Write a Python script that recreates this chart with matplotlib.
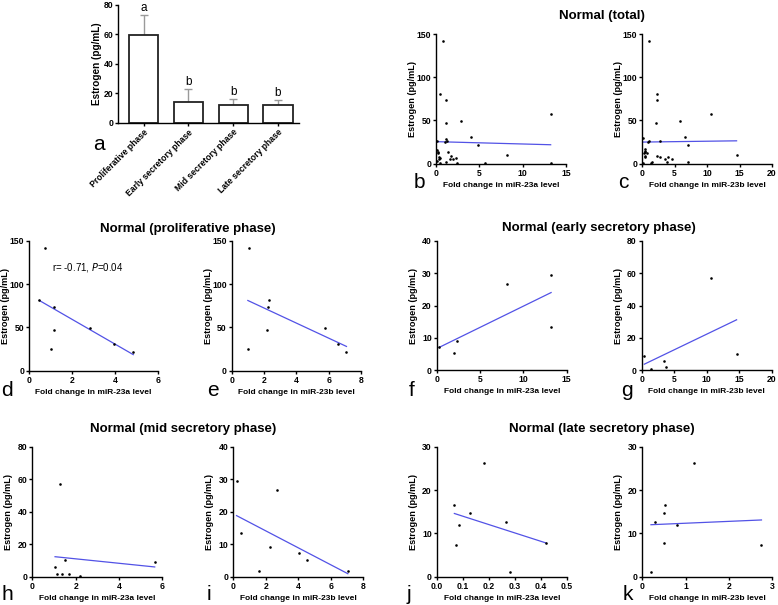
import matplotlib
matplotlib.use("Agg")
import matplotlib.pyplot as plt
import numpy as np

plt.rcParams["font.family"] = ["Liberation Sans", "DejaVu Sans"]

W, H = 778, 605

# panel a: estrogen by phase
phase_labels = ["Proliferative phase", "Early secretory phase", "Mid secretory phase", "Late secretory phase"]
phase_mean = [59.4, 14.3, 12.0, 12.3]
phase_err = [13.8, 8.6, 3.9, 2.9]
phase_letters = ["a", "b", "b", "b"]

# b / c: normal (total)
total_a_x = [0.81, 0.5, 1.19, 1.19, 2.92, 4.0, 4.88, 13.23, 8.15, 5.65, 13.23, 1.19, 1.3, 1.0, 1.38,
             1.6, 1.73, 2.0, 2.27, 2.38, 1.19, 0.08, 0.2, 0.25, 0.4, 0.35, 0.5, 0.1, 0.5, 0.15]
total_a_y = [142, 81, 74, 47, 49, 31, 22, 57, 9.6, 1.2, 1.2, 28, 26, 25, 13,
             5.4, 9.3, 5.8, 6.9, 0.4, 1.5, 26, 14, 12, 8, 6, 7, 3.5, 1.2, 16]
total_b_x = [1.13, 2.31, 2.26, 2.2, 5.8, 6.6, 7.05, 10.55, 14.55, 7.05, 0.2, 0.95, 1.1, 2.77, 0.3,
             0.5, 0.5, 0.52, 0.8, 0.45, 1.5, 1.4, 2.25, 3.5, 3.8, 4.05, 4.55, 0.2, 2.77, 0.4]
total_b_y = [142, 81, 74, 47, 49, 31, 22, 57, 9.5, 1.4, 29.4, 25.5, 26, 26.5, 12.6,
             14.6, 7.8, 16.5, 12, 13.3, 1.8, 0.6, 9.1, 5.8, 1.8, 7.3, 5.2, 1.2, 7.3, 8.8]

# d / e: proliferative phase
prol_a_x = [0.48, 0.75, 1.0, 1.15, 1.17, 2.85, 3.95, 4.85]
prol_a_y = [81, 142, 25.5, 74, 47, 49, 31, 22]
prol_b_x = [1.0, 1.1, 2.2, 2.25, 2.3, 5.8, 6.6, 7.1]
prol_b_y = [25.5, 142, 47, 74, 81, 49, 31, 22]

# f / g: early secretory phase
early_a_x = [0.3, 2.0, 2.3, 8.1, 13.2, 13.2]
early_a_y = [7.3, 5.2, 9.1, 26.7, 29.4, 13.3]
early_b_x = [0.4, 1.4, 3.5, 3.8, 10.6, 14.6]
early_b_y = [8.8, 0.6, 5.8, 1.8, 57.2, 10.2]

# h / i: mid secretory phase
mid_a_x = [1.05, 1.15, 1.3, 1.35, 1.5, 1.7, 2.2, 5.65]
mid_a_y = [5.8, 1.8, 57.2, 1.8, 10.2, 1.8, 0.6, 8.8]
mid_b_x = [0.2, 0.45, 1.6, 2.25, 2.7, 4.05, 4.55, 7.05]
mid_b_y = [29.4, 13.3, 1.8, 9.1, 26.7, 7.3, 5.2, 1.8]

# j / k: late secretory phase
late_a_x = [0.068, 0.073, 0.087, 0.127, 0.183, 0.268, 0.283, 0.42]
late_a_y = [16.5, 7.3, 12.0, 14.6, 26.2, 12.6, 1.2, 7.8]
late_b_x = [0.2, 0.3, 0.5, 0.5, 0.52, 0.8, 1.2, 2.75]
late_b_y = [1.2, 12.6, 14.6, 7.8, 16.5, 12.0, 26.2, 7.3]

# regression lines (slope, intercept)
fits = {
    "b": (-0.27, 25.5), "c": (0.10, 25.0),
    "d": (-14.3, 87.9), "e": (-8.69, 89.7),
    "f": (1.31, 6.7), "g": (1.93, 3.0),
    "h": (-1.37, 13.74), "i": (-2.61, 19.32),
    "j": (-19.3, 15.9), "k": (0.43, 11.91),
}

LINE_COLOR = "#5252e6"


def px_axes(fig, left, right, top, bottom):
    ax = fig.add_axes([left / W, 1 - bottom / H, (right - left) / W, (bottom - top) / H])
    ax._px = (right - left, bottom - top)
    return ax


def style_axes(ax):
    for s in ("top", "right"):
        ax.spines[s].set_visible(False)
    for s in ("left", "bottom"):
        ax.spines[s].set_linewidth(1.0)
    ax.tick_params(direction="out", length=2.5, width=1.0, pad=1.0, labelsize=6.2)
    for lab in ax.get_xticklabels() + ax.get_yticklabels():
        lab.set_fontweight("bold")


def place_labels(ax, ylab_px=19, xlab_px=18):
    w, h = ax._px
    ax.yaxis.set_label_coords(-ylab_px / w, 0.5)
    ax.xaxis.set_label_coords(0.5, -xlab_px / h)


def scatter_panel(fig, box, x, y, key, xmax, xticks, ymax, yticks, xlabel, xfmt=None):
    ax = px_axes(fig, *box)
    ax.scatter(x, y, s=3.5, color="black", zorder=3, clip_on=False, linewidths=0)
    slope, icpt = fits[key]
    xs = np.array([min(x), max(x)])
    ax.plot(xs, slope * xs + icpt, color=LINE_COLOR, lw=0.9)
    ax.set_xlim(0, xmax)
    ax.set_ylim(0, ymax)
    ax.set_xticks(xticks)
    ax.set_yticks(yticks)
    if xfmt:
        ax.set_xticklabels([xfmt.format(v) for v in xticks])
    ax.set_xlabel(xlabel, fontsize=6, fontweight="bold")
    ax.set_ylabel("Estrogen (pg/mL)", fontsize=6.6, fontweight="bold")
    place_labels(ax)
    style_axes(ax)
    return ax


fig = plt.figure(figsize=(W / 100, H / 100), dpi=100)

# panel a
ax = px_axes(fig, 118, 299, 5, 122.7)
pos = np.arange(len(phase_labels))
ax.bar(pos, phase_mean, width=0.65, color="white", edgecolor="#222222", linewidth=1.3, zorder=2)
ax.errorbar(pos, phase_mean, yerr=[np.zeros(4), phase_err], fmt="none", ecolor="#9a9a9a",
            elinewidth=1.0, capsize=3, capthick=1.0, zorder=1)
for p, m, e, t in zip(pos, phase_mean, phase_err, phase_letters):
    ax.text(p, m + e + 1, t, ha="center", va="bottom", fontsize=8.5)
ax.set_xlim(-0.573, 3.47)
ax.set_ylim(0, 80)
ax.set_yticks([0, 20, 40, 60, 80])
ax.set_xticks(pos)
ax.set_xticklabels(phase_labels, rotation=45, ha="right", rotation_mode="anchor", fontsize=6.5)
ax.set_ylabel("Estrogen (pg/mL)", fontsize=7.2, fontweight="bold")
place_labels(ax, ylab_px=16)
style_axes(ax)

xa = "Fold change in miR-23a level"
xb = "Fold change in miR-23b level"

scatter_panel(fig, (436, 566, 34, 163.7), total_a_x, total_a_y, "b", 15, [0, 5, 10, 15], 150, [0, 50, 100, 150], xa)
scatter_panel(fig, (642, 772, 34, 163.7), total_b_x, total_b_y, "c", 20, [0, 5, 10, 15, 20], 150, [0, 50, 100, 150], xb)

axd = scatter_panel(fig, (29, 158, 240.7, 370.7), prol_a_x, prol_a_y, "d", 6, [0, 2, 4, 6], 150, [0, 50, 100, 150], xa)
axd.text(2.75, 118.5, r"r= -0.71, $\it{P}$=0.04", ha="center", va="center", fontsize=7)
scatter_panel(fig, (231.7, 361, 240.7, 370.7), prol_b_x, prol_b_y, "e", 8, [0, 2, 4, 6, 8], 150, [0, 50, 100, 150], xb)

scatter_panel(fig, (436.7, 566.7, 240.7, 370.3), early_a_x, early_a_y, "f", 15, [0, 5, 10, 15], 40, [0, 10, 20, 30, 40], xa)
scatter_panel(fig, (641.7, 771.7, 240.7, 370.3), early_b_x, early_b_y, "g", 20, [0, 5, 10, 15, 20], 80, [0, 20, 40, 60, 80], xb)

scatter_panel(fig, (32.3, 162.3, 446.7, 576.7), mid_a_x, mid_a_y, "h", 6, [0, 2, 4, 6], 80, [0, 20, 40, 60, 80], xa)
scatter_panel(fig, (233.3, 363.3, 446.7, 576.7), mid_b_x, mid_b_y, "i", 8, [0, 2, 4, 6, 8], 40, [0, 10, 20, 30, 40], xb)

scatter_panel(fig, (436.7, 566.7, 446.7, 576.7), late_a_x, late_a_y, "j", 0.5, [0, 0.1, 0.2, 0.3, 0.4, 0.5], 30, [0, 10, 20, 30], xa, xfmt="{:.1f}")
scatter_panel(fig, (642.3, 772.3, 446.7, 576.7), late_b_x, late_b_y, "k", 3, [0, 1, 2, 3], 30, [0, 10, 20, 30], xb)

# titles
titles = [("Normal (total)", 602, 15.7), ("Normal (proliferative phase)", 188, 229),
          ("Normal (early secretory phase)", 599, 228), ("Normal (mid secretory phase)", 182.7, 429),
          ("Normal (late secretory phase)", 602.3, 429)]
for t, x, y in titles:
    fig.text(x / W, 1 - y / H, t, ha="center", va="center", fontsize=9.5, fontweight="bold")

# panel letters
letters = [("a", 99, 145), ("b", 419, 183), ("c", 623, 183), ("d", 7, 390), ("e", 213, 391),
           ("f", 412, 390), ("g", 627, 391), ("h", 7, 594), ("i", 209, 594), ("j", 409, 594), ("k", 628, 594)]
for t, x, y in letters:
    fig.text(x / W, 1 - y / H, t, ha="center", va="center", fontsize=15)

fig.savefig("out.png", dpi=100)
